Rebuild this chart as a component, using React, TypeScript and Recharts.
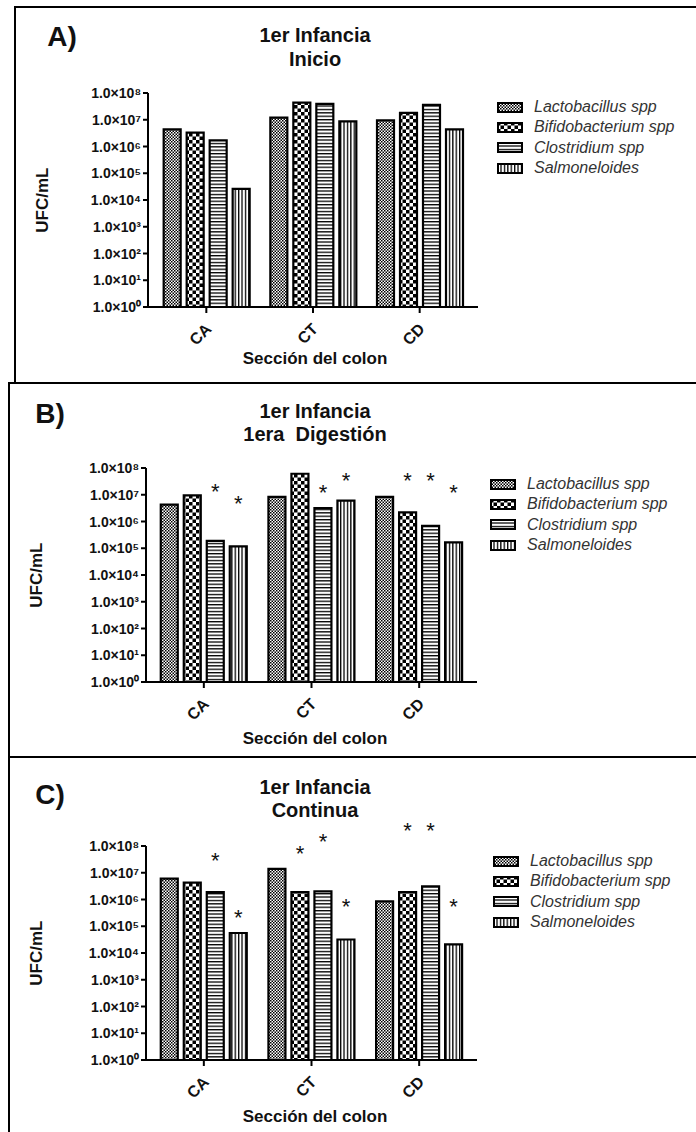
import React from 'react';
import { BarChart, Bar, XAxis, YAxis, Legend, LabelList } from 'recharts';

const SECTIONS = ['CA', 'CT', 'CD'];
const Y_TICKS = [1, 1e1, 1e2, 1e3, 1e4, 1e5, 1e6, 1e7, 1e8];

const SERIES = [
  { key: 'lacto', name: 'Lactobacillus spp', fill: 'url(#pat-lacto)' },
  { key: 'bifido', name: 'Bifidobacterium spp', fill: 'url(#pat-bifido)' },
  { key: 'clos', name: 'Clostridium spp', fill: 'url(#pat-clos)' },
  { key: 'salm', name: 'Salmoneloides', fill: 'url(#pat-salm)' },
];

// A) Inicio  (UFC/mL, per section CA / CT / CD)
const A_LACTO = [4.4e6, 1.2e7, 9.5e6];
const A_BIFIDO = [3.3e6, 4.4e7, 1.8e7];
const A_CLOS = [1.7e6, 3.9e7, 3.6e7];
const A_SALM = [2.6e4, 8.7e6, 4.4e6];

// B) 1era Digestión
const B_LACTO = [4.3e6, 8.3e6, 8.3e6];
const B_BIFIDO = [9.5e6, 6.1e7, 2.2e6];
const B_CLOS = [1.9e5, 3.2e6, 6.9e5];
const B_SALM = [1.17e5, 6.0e6, 1.65e5];
// height of the "*" mark above a bar (null = no mark)
const B_STAR_LACTO = [null, null, null];
const B_STAR_BIFIDO = [null, null, 5.3e7];
const B_STAR_CLOS = [2.2e7, 2.0e7, 5.3e7];
const B_STAR_SALM = [7.8e6, 5.3e7, 2.0e7];

// C) Continua
const C_LACTO = [6.0e6, 1.4e7, 8.5e5];
const C_BIFIDO = [4.3e6, 1.9e6, 1.9e6];
const C_CLOS = [1.9e6, 2.0e6, 3.1e6];
const C_SALM = [5.6e4, 3.2e4, 2.1e4];
const C_STAR_LACTO = [null, null, null];
const C_STAR_BIFIDO = [null, 8.7e7, 5.9e8];
const C_STAR_CLOS = [4.8e7, 2.3e8, 5.9e8];
const C_STAR_SALM = [3.4e5, 8.5e5, 8.5e5];

const NO_STARS = [[null, null, null], [null, null, null], [null, null, null], [null, null, null]];

const FONT = '"Liberation Sans", Arial, sans-serif';
const SUP = ['⁰', '¹', '²', '³', '⁴', '⁵', '⁶', '⁷', '⁸'];

function buildRows(values: number[][], stars: (number | null)[][]) {
  return SECTIONS.map((section, i) => {
    const row: any = { section };
    SERIES.forEach((s, j) => {
      row[s.key] = values[j][i];
      row[s.key + 'Star'] = stars[j][i];
    });
    return row;
  });
}

const Patterns = () => (
  <svg width={0} height={0} style={{ position: 'absolute' }}>
    <defs>
      <pattern id="pat-lacto" width={3} height={3} patternUnits="userSpaceOnUse">
        <rect width={3} height={3} fill="#fff" />
        <rect x={0} y={0} width={1.5} height={1.5} fill="#000" />
        <rect x={1.5} y={1.5} width={1.5} height={1.5} fill="#000" />
      </pattern>
      <pattern id="pat-bifido" width={7} height={7} patternUnits="userSpaceOnUse">
        <rect width={7} height={7} fill="#fff" />
        <rect x={0} y={0} width={3.5} height={3.5} fill="#000" />
        <rect x={3.5} y={3.5} width={3.5} height={3.5} fill="#000" />
      </pattern>
      <pattern id="pat-clos" width={4} height={3.4} patternUnits="userSpaceOnUse">
        <rect width={4} height={3.4} fill="#fff" />
        <rect x={0} y={0} width={4} height={1.3} fill="#000" />
      </pattern>
      <pattern id="pat-salm" width={3.4} height={4} patternUnits="userSpaceOnUse">
        <rect width={3.4} height={4} fill="#fff" />
        <rect x={0} y={0} width={1.3} height={4} fill="#000" />
      </pattern>
    </defs>
  </svg>
);

const PowerTick = (props: any) => {
  const { x, y, payload } = props;
  const exp = Math.round(Math.log10(payload.value));
  return (
    <text x={x} y={y} dy={5} textAnchor="end" fontFamily={FONT} fontWeight="bold" fontSize={14} fill="#111">
      1.0×10{SUP[exp]}
    </text>
  );
};

const SectionTick = (props: any) => {
  const { x, y, payload } = props;
  return (
    <text
      transform={`translate(${x + 6},${y + 15}) rotate(-45)`}
      textAnchor="end"
      fontFamily={FONT}
      fontWeight="bold"
      fontSize={16}
      fill="#111"
    >
      {payload.value}
    </text>
  );
};

// place the star using the bar's own geometry (log axis: height ~ log10(value))
const starContent = (barValues: number[]) => (props: any) => {
  const vb = props.viewBox || {};
  const x = props.x ?? vb.x;
  const y = props.y ?? vb.y;
  const width = props.width ?? vb.width;
  const height = props.height ?? vb.height;
  const { value, index } = props;
  if (value == null || x == null) return null;
  const base = y + height;
  const perDecade = height / Math.log10(barValues[index]);
  const cy = base - Math.log10(value) * perDecade;
  return (
    <text x={x + width / 2} y={cy + 13} textAnchor="middle" fontFamily={FONT} fontSize={22} fill="#111">
      *
    </text>
  );
};

const LegendBox = () => (
  <div>
    {SERIES.map((s) => (
      <div key={s.key} style={{ display: 'flex', alignItems: 'center', height: 20.3 }}>
        <svg width={26} height={11}>
          <rect x={1} y={1} width={24} height={9} fill={s.fill} stroke="#000" strokeWidth={2} />
        </svg>
        <span style={{ marginLeft: 11, fontFamily: FONT, fontStyle: 'italic', fontSize: 16, color: '#333', lineHeight: 1 }}>
          {s.name}
        </span>
      </div>
    ))}
  </div>
);

const Txt = ({ x, y, size, children, bold = true, rotate = false, pre = false }: any) => (
  <div
    style={{
      position: 'absolute',
      left: x,
      top: y,
      transform: `translate(-50%, -49%)${rotate ? ' rotate(-90deg)' : ''}`,
      fontFamily: FONT,
      fontWeight: bold ? 'bold' : 'normal',
      fontSize: size,
      lineHeight: 1,
      color: '#111',
      whiteSpace: pre ? 'pre' : 'nowrap',
    }}
  >
    {children}
  </div>
);

type PanelProps = {
  top: number;
  height: number;
  letter: string;
  title: [string, string];
  values: number[][];
  stars: (number | null)[][];
  margin: { top: number; right: number; bottom: number; left: number };
  pad: number;
  legend: { left: number; top: number };
  letterPos: [number, number];
  titleY: [number, number];
  yLabelPos: [number, number];
  xLabelY: number;
};

const Panel = (p: PanelProps) => {
  const rows = buildRows(p.values, p.stars);
  return (
    <>
      <div style={{ position: 'absolute', left: 0, top: p.top, width: 696, height: p.height }}>
        <BarChart width={696} height={p.height} data={rows} margin={p.margin} barGap={6} barCategoryGap="10%">
          <XAxis
            dataKey="section"
            height={30}
            padding={{ left: p.pad, right: p.pad }}
            axisLine={{ stroke: '#000', strokeWidth: 2 }}
            tickLine={{ stroke: '#000', strokeWidth: 2 }}
            tickSize={6}
            tick={<SectionTick />}
            interval={0}
          />
          <YAxis
            type="number"
            scale="log"
            domain={[1, 1e8]}
            ticks={Y_TICKS}
            interval={0}
            width={60}
            axisLine={{ stroke: '#000', strokeWidth: 2 }}
            tickLine={{ stroke: '#000', strokeWidth: 2 }}
            tickSize={5}
            tickMargin={2}
            tick={<PowerTick />}
          />
          <Legend
            layout="horizontal"
            verticalAlign="middle"
            align="center"
            content={<LegendBox />}
            wrapperStyle={{ left: p.legend.left, top: p.legend.top, width: 200 }}
          />
          {SERIES.map((s, j) => (
            <Bar
              key={s.key}
              dataKey={s.key}
              name={s.name}
              fill={s.fill}
              stroke="#000"
              strokeWidth={2.2}
              isAnimationActive={false}
            >
              <LabelList dataKey={s.key + 'Star'} content={starContent(p.values[j])} />
            </Bar>
          ))}
        </BarChart>
      </div>
      <Txt x={p.letterPos[0]} y={p.letterPos[1]} size={28}>{p.letter}</Txt>
      <Txt x={315} y={p.titleY[0]} size={20}>{p.title[0]}</Txt>
      <Txt x={315} y={p.titleY[1]} size={20} pre>{p.title[1]}</Txt>
      <Txt x={p.yLabelPos[0]} y={p.yLabelPos[1]} size={17} rotate>UFC/mL</Txt>
      <Txt x={315} y={p.xLabelY} size={17}>Sección del colon</Txt>
    </>
  );
};

const Line = ({ x, y, w, h }: any) => (
  <div style={{ position: 'absolute', left: x, top: y, width: w, height: h, background: '#000' }} />
);

export default function App() {
  return (
    <div style={{ position: 'absolute', left: 0, top: 0, width: 696, height: 1132, background: '#fff', overflow: 'hidden' }}>
      <Patterns />
      {/* panel frames */}
      <Line x={14} y={6} w={682} h={2} />
      <Line x={14} y={6} w={2} h={377} />
      <Line x={8} y={382} w={688} h={2} />
      <Line x={8} y={382} w={2} h={750} />
      <Line x={8} y={756} w={688} h={2} />

      <Panel
        top={0}
        height={375}
        letter="A)"
        title={['1er Infancia', 'Inicio']}
        values={[A_LACTO, A_BIFIDO, A_CLOS, A_SALM]}
        stars={NO_STARS}
        margin={{ top: 93, right: 218, bottom: 38, left: 88 }}
        pad={5}
        legend={{ left: 497, top: 97 }}
        letterPos={[62, 37]}
        titleY={[35, 59]}
        yLabelPos={[42, 200]}
        xLabelY={358}
      />
      <Panel
        top={383}
        height={375}
        letter="B)"
        title={['1er Infancia', '1era  Digestión']}
        values={[B_LACTO, B_BIFIDO, B_CLOS, B_SALM]}
        stars={[B_STAR_LACTO, B_STAR_BIFIDO, B_STAR_CLOS, B_STAR_SALM]}
        margin={{ top: 85, right: 219, bottom: 46, left: 86 }}
        pad={4}
        legend={{ left: 490, top: 91 }}
        letterPos={[50, 414]}
        titleY={[411, 434]}
        yLabelPos={[36, 575]}
        xLabelY={738}
      />
      <Panel
        top={757}
        height={375}
        letter="C)"
        title={['1er Infancia', 'Continua']}
        values={[C_LACTO, C_BIFIDO, C_CLOS, C_SALM]}
        stars={[C_STAR_LACTO, C_STAR_BIFIDO, C_STAR_CLOS, C_STAR_SALM]}
        margin={{ top: 89, right: 219, bottom: 42, left: 86 }}
        pad={4}
        legend={{ left: 493, top: 94 }}
        letterPos={[50, 795]}
        titleY={[787, 810]}
        yLabelPos={[36, 953]}
        xLabelY={1116}
      />
    </div>
  );
}
